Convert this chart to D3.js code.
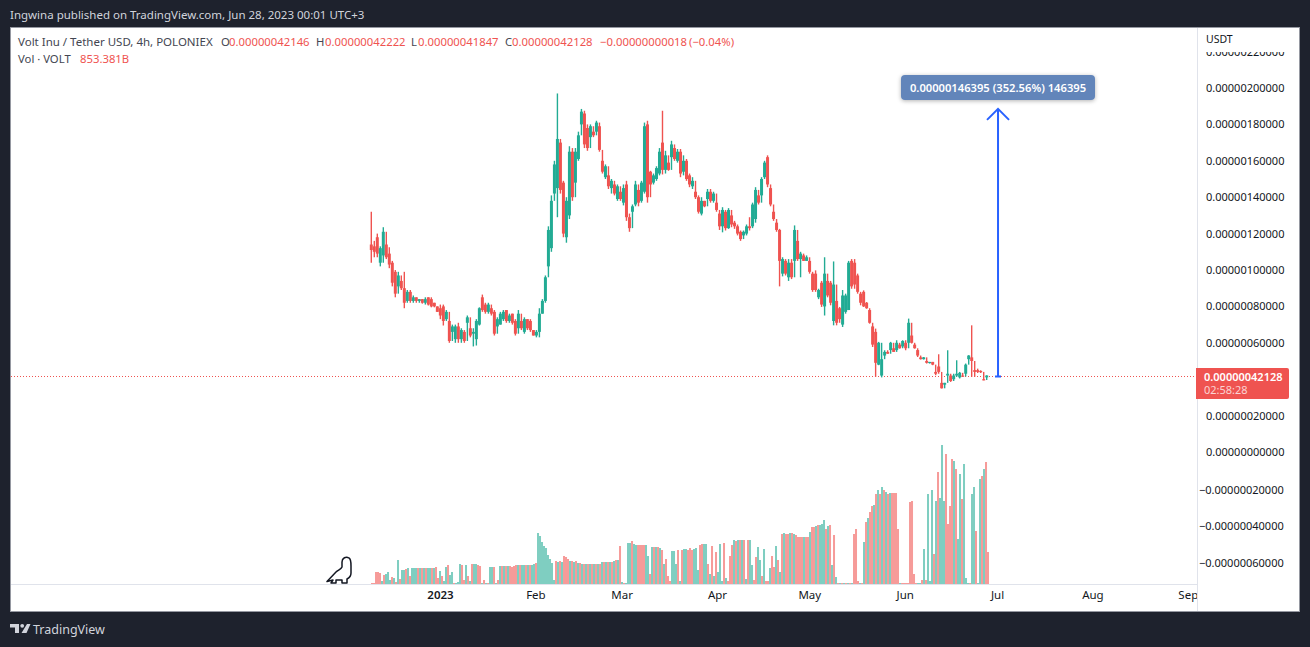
<!DOCTYPE html>
<html><head><meta charset="utf-8">
<script src="https://cdn.jsdelivr.net/npm/d3@7"></script>
<style>html,body{margin:0;background:#1e222d}svg{display:block}text{font-family:"Noto Sans",sans-serif}</style>
</head><body><svg id="c" width="1310" height="647"></svg>
<script>
// prices in units of 1e-8 USDT, about one bar per day
const highs=[132,116,120,113,123.5,115,112.5,105,100,99,95,99,89,89,86,85,84,84,85,85,85,82,80,81,81,78,73,70,70,71,68,66,75,68.5,68,73,79.5,86.5,82,82,79,78,74,77,78,78,76,76,73,78,72,74,73,73,67,67,79,84,97,124,141,160,197,171,149,140,168,167,167,176,
188.5,187.5,180,180,176.5,182,179.5,160,158,152,150,148,147,143.6,147,149,131,136,149,144.5,149,181,182,154.5,153,157,167,187.5,165.5,160,171,168,166.5,166.5,163,161,153,151,143.6,141,140,138,144.5,144.5,143,137,132,134.5,132.6,134,130,127,125,121.7,121.7,125,129,137,145.5,142,151,160,163,145.5,132,126,122.6,
107,106,106,106,124.5,117,110,108,108,105,99,99.8,89.7,94,107,95,94,104.7,84,79.7,89,87,105,106,106,98,88,88.8,82.4,78.7,69.6,67.8,60.5,52,55.9,55.9,60.5,57.7,61.4,59.6,61.4,61.4,73.3,65,59.6,56.8,52.2,52.2,50.8,49.5,49.5,44.9,53.7,38.5,38,55.9,42.2,43,50.4,44,42.2,48.6,53.2,69.6,45.8,45.8,44.9,40.4,42.2];
const lows=[104,107,107,102,104,106,101,91,85,90,89,79,82,82,82,82,82,81.5,81,80.5,79.5,79.5,77,73,69.5,72,60,65,60,60,60,60,70,63,58,58.5,69.5,77,76,76,75,64,68,70,72,71,71,70,64,67,67,65,67,66,64,63,63,76,82,101,110,141,129,142,118,115,128,138,147,160,
178.5,167,165.5,172,173,175,165,153,150,144.5,142,141,138,138,135.5,127,121,132,135,135,137,142,137,145.5,147,149,152,152.5,153,154.5,161,160,159,151,152,149,145.5,144.5,139,131,130,134.5,138,137,137,132,122,120.7,121.7,122.6,123.5,122.6,119,116,119,119,121.7,123.5,126,136,140,151,145.5,135,127,121,91,
96.5,97,94,95,104,105,96,105,105,98,88,88,84,79.7,75,85,80.6,69.6,69.6,72.4,68.7,76,78,89.7,89.7,87,80.6,79.7,78.7,70.5,57.7,41.3,47.7,41,53,54,55.9,55,55.9,56.8,57.7,55.9,59.6,59.6,56.8,52.2,50.8,50.8,48.6,48.6,47.7,42.2,43,34.9,36.7,41.3,38.5,39.4,41.3,40.4,41.3,42.2,50.4,41.3,41.3,43.4,43.4,39.4,40.4];
const opens=[114,113,118,104,108,114,109,104,99,91,94,90,83,88,83,85,83,84,82,85,84,82,80,79,80,73,72,66,62,69,62,66,71,68,65,62,70,85,81,77,79,77,69,70,73,78,72,76,72,68,72,66,73,72,67,64,66,76,83,102,112,142,145,170,148,118,130,165,148,161,
180,186,178,173,176,176,179,160,151,152,145,147,139,143,137,147,129,132,136,144,138,143,180,154,148,150,153,170,155,159,162,167,160,165,154,160,152,146,143,140,131,138,139,143,138,137,131,124,132,123,130,126,124,121,119,120,124,124,128,141,141,151,162,145,132,126,122,
98,105,96,104,105,116,106,108,105,105,98,98,85,93,80,94,93,72,83,79,70,77,78,105,104,97,87,88,82,78,69,66,48,42,53,55,56,57,56,59,58,60,60,64,59,56,52,51,50,49,49.5,44,47,38,37,42,42,40,42,41,42,43,51,52,45,45,44.5,40,41];
const closes=[111,110,109,112,121,107,103,93,87,97,90,82,88,83,85,83,84,82,84,81,80,80,77,75,72,77,61,69,69,62,67,61,74,64,66,72,79,78,77,81,76,65,73,76,77,72,75,71,65,76,68,73,68,67,64,66,76,83,96,122,138,158,172,144,120,138,165,140,165,174,
187,169,167,179,174,181,166,154,157,146,149,142,146,139,145,129,123,135,147,137,148,179,140,147,152,156,165,155,163,155,169,161,165,153,160,150,147,149,140,132,138,135,143,138,142,133,124,133,123,133,125,124,120,117,121,124,123,136,144,137,150,159,147,136,128,122,105,
106,98,104,96,122,106,109,105,107,99,89,89,89,81,98,86,82,92,71,73,86,86,104,91,92,88,82,80,79,71,59,49,60,51,55,54,60,55,60,57,61,57,71,60,57,53,51,52,49,49.5,48,43,44,35,38,43,39,42,43,43.5,41.5,48,53,50,44,44,44,39.6,42];
const volumes=[1,1,12,12,11,3,9,10,12,4,7,6,2,24,5,14,14,15,16,8,16,16,16,16,16,16,16,16,16,16,16,16,17,6,13,8,3,17,19,9,12,1,1,2,20,19,4,19,8,3,20,20,20,19,18,1,4,1,1,17,17,17,1,4,18,18,18,18,18,18,17,18,19,19,19,19,19,19,19,19,19,20,21,51,48,42,38,36,29,25,21,4,23,22,23,22,28,27,25,23,23,22,23,21,21,20,20,20,20,20,20,20,20,20,20,22,22,22,22,22,22,23,24,24,38,2,1,1,41,41,43,40,39,39,39,39,39,39,28,10,37,37,37,37,36,
34,20,25,8,3,33,33,20,34,3,34,35,35,34,36,34,35,36,14,39,40,40,40,20,10,38,8,32,12,40,3,41,6,3,28,39,44,43,44,44,44,44,5,44,44,19,4,27,37,24,8,35,3,3,16,28,17,38,24,12,50,51,50,50,51,51,50,49,47,47,47,47,47,47,52,57,57,58,59,59,60,64,55,58,59,19,49,7,1,1,1,1,1,1,1,1,50,55,3,1,1,42,62,66,72,78,79,90,94,90,97,94,92,90,91,91,91,91,55,1,1,1,1,1,82,83,10,1,1,1,4,35,4,90,3,94,30,83,112,86,139,83,130,60,78,125,123,115,45,110,85,120,6,1,1,90,97,53,1,105,108,115,122,32];
const volumeSides="rrrrrgrgggrgrgrggrgrgggrgrgrggrgrrgrggrggrgggrrgrgrggrrgrgrggrgrgrgrgrrrrgrggrgrggrgggggggggrgrgrrrgrgrgrgrgrgrgrgrgrgrgrgrgrgrgggrggrrrrggrgrgrg"+"rgrrrgggrgrggrrrgggrrggrgrgrgggrgrrrgrgrgrgrggrrggrgrrgrrgrgrgrrgrgrrrrgrrgrrgrgggrgrgrgrgrgrgrgrrrgrgrgrrgrgrgrgrgrrrrgrrrrrrrrggrgrgggrgrgggrrrrgrggrgggrggrggrgrrgggrrrrgrrrgggr";
const timeTicks=[new Date(Date.UTC(2023,0,1)),new Date(Date.UTC(2023,1,1)),new Date(Date.UTC(2023,2,1)),new Date(Date.UTC(2023,3,1)),new Date(Date.UTC(2023,4,1)),new Date(Date.UTC(2023,5,1)),new Date(Date.UTC(2023,6,1)),new Date(Date.UTC(2023,7,1)),new Date(Date.UTC(2023,8,1))];
const timeLabels=["2023","Feb","Mar","Apr","May","Jun","Jul","Aug","Sep"];
const priceTicks=[220,200,180,160,140,120,100,80,60,20,0,-20,-40,-60];
const lastClose=42.128, measureDelta=146.395;
const legendItems=[["Volt Inu / Tether USD, 4h, POLONIEX",18,"#434651"],["O",221,"#434651"],["0.00000042146",229,"#ef5350"],["H",316,"#434651"],["0.00000042222",325,"#ef5350"],["L",411,"#434651"],["0.00000041847",418,"#ef5350"],["C",505,"#434651"],["0.00000042128",512,"#ef5350"],["−0.00000000018",600,"#ef5350"],["(−0.04%)",689,"#ef5350"]];

const RED="#ef5350",TEAL="#22ab94";
const svg=d3.select("#c");
const x=d3.scaleUtc().domain([timeTicks[0],timeTicks[6]]).range([440,997]);
const y=d3.scaleLinear().domain([0,200]).range([452,88]);
const vy=d3.scaleLinear().domain([0,139]).range([584,445]);

const defs=svg.append("defs");
defs.append("clipPath").attr("id","plot").append("rect").attr("x",11).attr("y",28).attr("width",1186).attr("height",556);
defs.append("clipPath").attr("id","axisClip").append("rect").attr("x",1198).attr("y",52).attr("width",100).attr("height",532);
defs.append("clipPath").attr("id","timeClip").append("rect").attr("x",11).attr("y",585).attr("width",1186).attr("height",26);
const sh=defs.append("filter").attr("id","sh").attr("x","-10%").attr("y","-30%").attr("width","120%").attr("height","170%");
sh.append("feDropShadow").attr("dx",0).attr("dy",1).attr("stdDeviation",2).attr("flood-color","#000").attr("flood-opacity",.3);

svg.append("rect").attr("x",10.5).attr("y",27.5).attr("width",1289).attr("height",584).attr("fill","#fff").attr("stroke","#9598a1");
svg.append("line").attr("x1",1197.5).attr("x2",1197.5).attr("y1",28).attr("y2",611).attr("stroke","#e0e3eb");
svg.append("line").attr("x1",11).attr("x2",1197).attr("y1",584.5).attr("y2",584.5).attr("stroke","#e0e3eb");

// header + legend
svg.append("text").attr("x",10).attr("y",19).attr("fill","#d1d4dc").attr("font-size",11.5).text("Ingwina published on TradingView.com, Jun 28, 2023 00:01 UTC+3");
svg.selectAll("text.lg").data(legendItems).join("text").attr("class","lg").attr("x",d=>d[1]).attr("y",46).attr("fill",d=>d[2]).attr("font-size",d=>d[1]===18?11.5:11.3).text(d=>d[0]);
svg.append("text").attr("x",18).attr("y",63).attr("fill","#434651").attr("font-size",11.3).text("Vol · VOLT");
svg.append("text").attr("x",80).attr("y",63).attr("fill",RED).attr("font-size",11.3).text("853.381B");

// volume
const volStart=x(new Date(Date.UTC(2022,11,9,14))), plot=svg.append("g").attr("clip-path","url(#plot)");
const volX=i=>volStart+i*2;
plot.append("g").selectAll("rect").data(volumes).join("rect")
 .attr("x",(d,i)=>volX(i)).attr("width",2).attr("y",d=>vy(d)).attr("height",d=>584-vy(d))
 .attr("fill",(d,i)=>volumeSides[i]==="g"?TEAL:RED).attr("opacity",.58);

// dotted last price
plot.append("line").attr("x1",11).attr("x2",1197).attr("y1",376.5).attr("y2",376.5).attr("stroke",RED).attr("stroke-dasharray","1 2");

// candles: each wick also reaches the previous close, as the dense 4h bars do
const t0=+x.invert(371.3),t1=+x.invert(986.7),n=highs.length;
const dates=highs.map((_,i)=>new Date(t0+(t1-t0)*i/(n-1)));
const bars=highs.map((h,i)=>({h,l:lows[i],o:opens[i],c:closes[i],t:dates[i],p:i?closes[i-1]:opens[i]}));
const cg=plot.append("g").selectAll("g").data(bars).join("g");
cg.append("line").attr("x1",d=>x(d.t)).attr("x2",d=>x(d.t)).attr("y1",d=>y(Math.max(d.h,d.p))).attr("y2",d=>y(Math.min(d.l,d.p))).attr("stroke-width",1.4).attr("stroke",d=>d.c>=d.o?TEAL:RED);
cg.append("rect").attr("x",d=>x(d.t)-1.5).attr("width",3).attr("y",d=>y(Math.max(d.o,d.c))).attr("height",d=>Math.max(1.2,Math.abs(y(d.o)-y(d.c)))).attr("fill",d=>d.c>=d.o?TEAL:RED);

// measure arrow
const ax=x(new Date(Date.UTC(2023,6,1,8))),ay0=y(lastClose),ay1=y(lastClose+measureDelta);
plot.append("path").attr("d",`M${ax} 376.5V${ay1}M${ax-11} ${ay1+11}L${ax} ${ay1}L${ax+11} ${ay1+11}M${ax-3} 376.5H${ax+3}`).attr("fill","none").attr("stroke","#2962ff").attr("stroke-width",2);
svg.append("rect").attr("x",901).attr("y",75).attr("width",194).attr("height",25).attr("rx",4).attr("fill","#6285ba").attr("filter","url(#sh)");
svg.append("text").attr("x",998).attr("y",91.5).attr("text-anchor","middle").attr("fill","#fff").attr("font-weight",600).attr("font-size",11.2).text("0.00000146395 (352.56%) 146395");

// price axis
const fmtP=v=>(v<0?"−":"")+(Math.abs(v)/1e8).toFixed(11);
const pa=svg.append("g").attr("clip-path","url(#axisClip)").append("g").attr("transform","translate(1206,0)")
 .call(d3.axisRight(y).tickValues(priceTicks).tickSize(0).tickPadding(0).tickFormat(fmtP));
pa.select(".domain").remove();
pa.selectAll("text").attr("fill","#131722").attr("font-size",11).attr("font-family",'"Noto Sans"').attr("x",d=>d<0?-7:0).attr("dy",d=>d<0?"0.44em":"0.32em");
svg.append("text").attr("x",1206).attr("y",43).attr("fill","#131722").attr("font-size",10.5).text("USDT");

// last price tag
svg.append("path").attr("d","M1196 368H1287a2 2 0 0 1 2 2V397a2 2 0 0 1 -2 2H1196Z").attr("fill",RED);
svg.append("text").attr("x",1204).attr("y",381).attr("fill","#fff").attr("font-weight",600).attr("font-size",11).text("0.00000042128");
svg.append("text").attr("x",1204).attr("y",394).attr("fill","#fff").attr("fill-opacity",.75).attr("font-size",11).text("02:58:28");

// time axis
const ta=svg.append("g").attr("clip-path","url(#timeClip)").append("g").attr("transform","translate(0,591)")
 .call(d3.axisBottom(x).tickValues(timeTicks).tickSize(0).tickPadding(0).tickFormat((d,i)=>timeLabels[i]));
ta.select(".domain").remove();
ta.selectAll("text").attr("fill","#131722").attr("font-size",11.5).attr("font-family",'"Noto Sans"').attr("font-weight",(d,i)=>i===0?600:400);

// dino
svg.append("path").attr("d","M327 581.5L336 572C338 570 341 569.5 342 567L342 562C342 558 346 556 349 558C351 559 351 562 351 566L351 573C351 576 349 578 347 579L347 583L342 583L342 580L336 580L336 583L331 583L333 580Z").attr("fill","#fff").attr("stroke","#131722").attr("stroke-width",1.5).attr("stroke-linejoin","round");
// logo
const lg=svg.append("g").attr("fill","#d1d4dc");
lg.append("path").attr("d","M10 624h9v9h-4v-5.5h-5zM27 624h3.5l-4 9h-5z");
lg.append("circle").attr("cx",22.2).attr("cy",625.8).attr("r",1.9);
svg.append("text").attr("x",33).attr("y",634).attr("fill","#d1d4dc").attr("font-size",12.5).text("TradingView");
</script></body></html>
